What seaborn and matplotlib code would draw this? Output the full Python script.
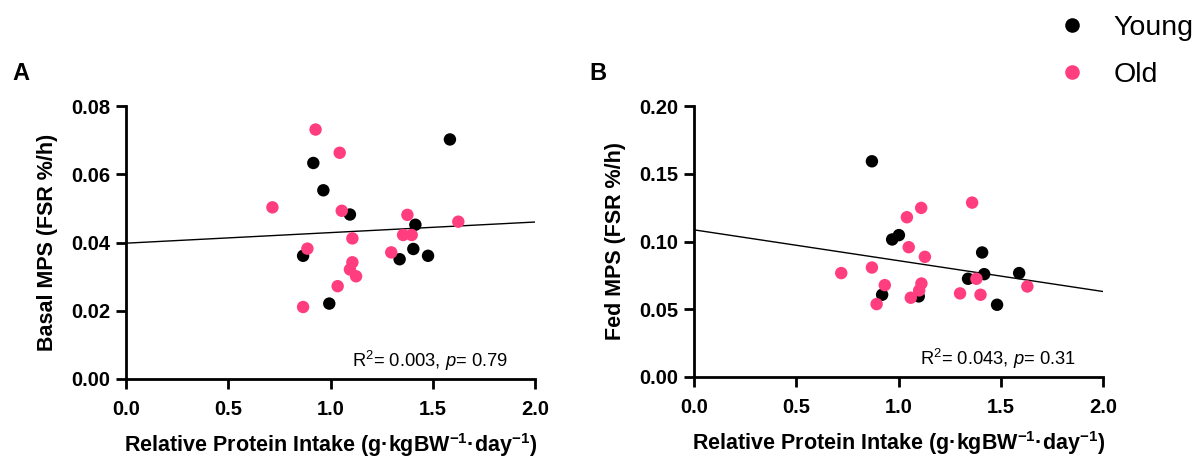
import numpy as np
import pandas as pd
import matplotlib
matplotlib.use("Agg")
import matplotlib.pyplot as plt
from matplotlib.lines import Line2D
import seaborn as sns

# ---------------- data ----------------
groups = ["Young", "Old"]
colors = {"Young": "#000000", "Old": "#FF3D7F"}

# Panel A: basal MPS
a_young_x = [1.584, 0.916, 0.965, 1.095, 1.415, 0.866, 1.405, 1.338, 1.477, 0.994]
a_young_y = [0.0702, 0.0633, 0.0553, 0.0482, 0.0452, 0.0361, 0.0381, 0.0351, 0.0361, 0.0221]
a_old_x = [0.927, 1.045, 0.716, 1.055, 1.376, 1.625, 1.107, 1.355, 1.397, 0.887,
           1.297, 1.107, 1.095, 1.125, 1.035, 0.866]
a_old_y = [0.0731, 0.0663, 0.0503, 0.0493, 0.0481, 0.0461, 0.0412, 0.0422, 0.0422, 0.0382,
           0.0371, 0.0342, 0.0321, 0.0301, 0.0272, 0.0211]
a_fit = (0.0398, 0.0031)          # intercept, slope
a_stats = ("0.003", "0.79")

# Panel B: fed MPS
b_young_x = [0.870, 0.969, 1.002, 1.409, 1.340, 1.419, 1.590, 0.920, 1.099, 1.482]
b_young_y = [0.1592, 0.1015, 0.1047, 0.0919, 0.0725, 0.0759, 0.0767, 0.0607, 0.0595, 0.0533]
b_old_x = [1.360, 1.111, 1.041, 1.050, 1.129, 0.720, 0.870, 0.933, 1.112, 1.101,
           1.381, 1.630, 1.060, 1.301, 1.401, 0.893]
b_old_y = [0.1287, 0.1248, 0.1179, 0.0958, 0.0887, 0.0767, 0.0808, 0.0678, 0.0690, 0.0639,
           0.0725, 0.0668, 0.0585, 0.0617, 0.0607, 0.0538]
b_fit = (0.1086, -0.02275)
b_stats = ("0.043", "0.31")

x_ticks = [0.0, 0.5, 1.0, 1.5, 2.0]
a_yticks = [0.00, 0.02, 0.04, 0.06, 0.08]
b_yticks = [0.00, 0.05, 0.10, 0.15, 0.20]

# ---------------- style ----------------
sns.set_theme(style="ticks")
plt.rcParams["font.family"] = ["Liberation Sans", "DejaVu Sans"]
plt.rcParams["mathtext.fontset"] = "custom"
plt.rcParams["mathtext.rm"] = "Liberation Sans"
plt.rcParams["mathtext.it"] = "Liberation Sans:italic"
plt.rcParams["mathtext.bf"] = "Liberation Sans:bold"
for k in ["text.color", "axes.labelcolor", "xtick.color", "ytick.color",
          "axes.edgecolor"]:
    plt.rcParams[k] = "black"


def make_df(yx, yy, ox, oy):
    return pd.DataFrame({
        "x": list(yx) + list(ox),
        "y": list(yy) + list(oy),
        "group": ["Young"] * len(yx) + ["Old"] * len(ox),
    })


fig = plt.figure(figsize=(11.95, 4.57), dpi=100)
axA = fig.add_axes([126 / 1195, 1 - 379 / 457, 409 / 1195, 273 / 457])
axB = fig.add_axes([694 / 1195, 1 - 377 / 457, 409 / 1195, 271 / 457])

xlabel = r"Relative Protein Intake (g·kgBW$^{\mathbf{-1}}$·day$^{\mathbf{-1}}$)"

panels = [
    (axA, make_df(a_young_x, a_young_y, a_old_x, a_old_y), a_fit, a_stats, a_yticks,
     "Basal MPS (FSR %/h)", "A", 21 / 1195),
    (axB, make_df(b_young_x, b_young_y, b_old_x, b_old_y), b_fit, b_stats, b_yticks,
     "Fed MPS (FSR %/h)", "B", 598 / 1195),
]

for ax, df, fit, stats, yticks, ylabel, letter, lx in panels:
    fx = np.array([x_ticks[0], x_ticks[-1]])
    fy = fit[0] + fit[1] * fx
    sns.lineplot(x=fx, y=fy, ax=ax, color="black", linewidth=1.0, zorder=2)
    sns.scatterplot(data=df, x="x", y="y", hue="group", hue_order=groups,
                    palette=colors, s=80, linewidth=0, ax=ax, legend=False,
                    zorder=3, clip_on=False)
    ax.set_xlim(x_ticks[0], x_ticks[-1])
    ax.set_ylim(yticks[0], yticks[-1])
    ax.set_xticks(x_ticks)
    ax.set_xticklabels([f"{t:.1f}" for t in x_ticks])
    ax.set_yticks(yticks)
    ax.set_yticklabels([f"{t:.2f}" for t in yticks])
    ax.tick_params(axis="both", direction="out", length=7, width=2,
                   labelsize=14.5, color="black", pad=4)
    for lab in ax.get_xticklabels() + ax.get_yticklabels():
        lab.set_fontweight("bold")
    ax.tick_params(axis="x", pad=8)
    for sp in ["left", "bottom"]:
        ax.spines[sp].set_linewidth(2)
        ax.spines[sp].set_color("black")
    sns.despine(ax=ax)
    ax.set_xlabel(xlabel, fontsize=15.5, fontweight="bold", labelpad=9)
    ax.set_ylabel(ylabel, fontsize=15.5, fontweight="bold", labelpad=10)
    ax.text(0.935, 0.045, r"R$^2$= " + stats[0] + r", $p$= " + stats[1],
            transform=ax.transAxes, ha="right", va="baseline", fontsize=13.2)
    fig.text(lx, 1 - 73 / 457, letter, fontsize=17, fontweight="bold",
             ha="center", va="center")

handles = [Line2D([], [], marker="o", linestyle="none", markersize=10.5,
                  markerfacecolor=colors[g], markeredgewidth=0) for g in groups]
fig.legend(handles, groups, loc="upper right", bbox_to_anchor=(1.02, 1.024),
           frameon=False, fontsize=20.5, handletextpad=0.45, labelspacing=0.75)

fig.savefig("out.png", dpi=100)
